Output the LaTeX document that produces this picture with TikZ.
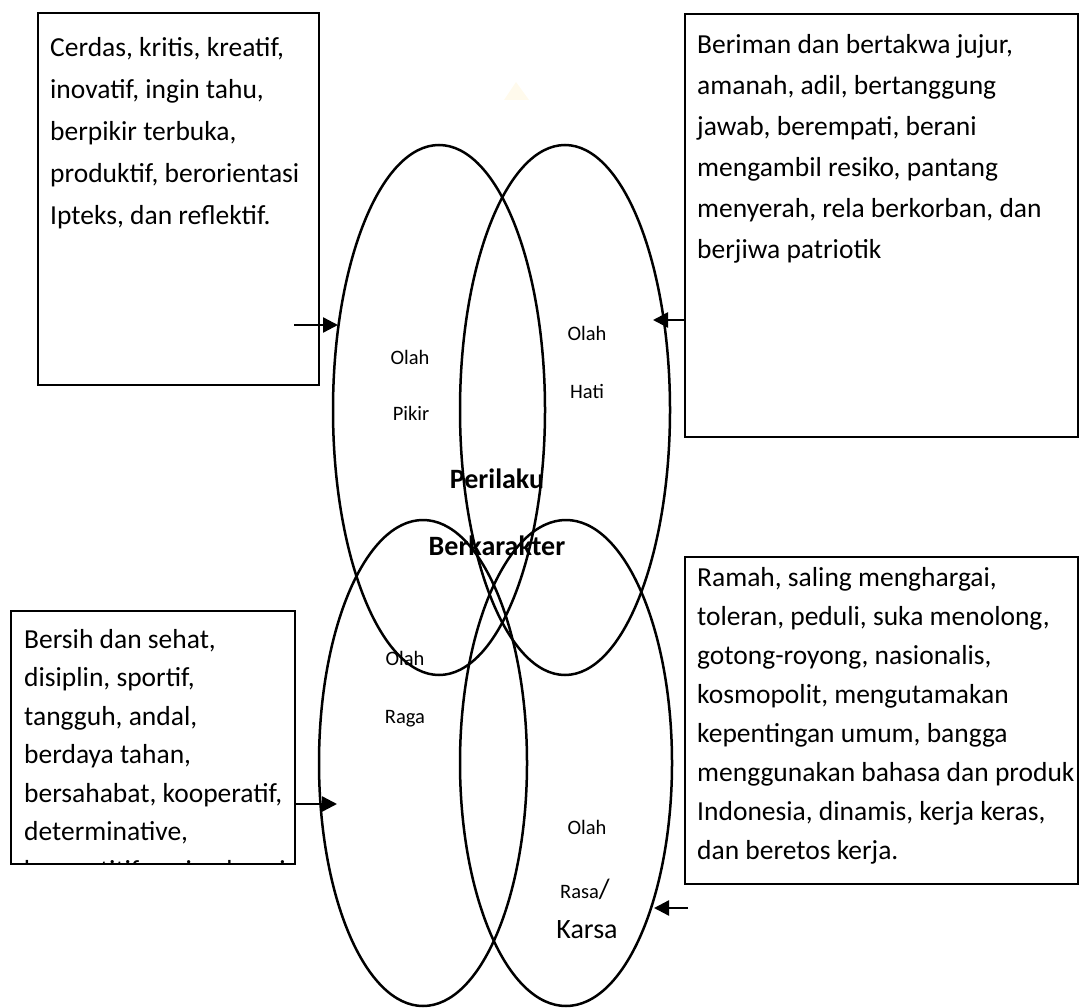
\documentclass[tikz,border=0pt]{standalone}
\usepackage{fontspec}
\setmainfont{Carlito}
\usetikzlibrary{shapes.geometric,arrows.meta}
\begin{document}
\begin{tikzpicture}[x=1pt,y=-1pt,
  boxst/.style={draw, line width=2.4pt, rectangle, inner sep=0pt, outer sep=0pt},
  ell/.style={draw, line width=2.5pt, ellipse, inner sep=0pt, outer sep=0pt},
  boxtxt/.style={anchor=base west, inner sep=0pt, text width=400pt, align=flush left,
                 font=\fontsize{27.5}{41}\selectfont},
  lbl/.style={anchor=base, inner sep=0pt, font=\fontsize{20.5}{24}\selectfont},
  bigl/.style={anchor=base, inner sep=0pt, font=\bfseries\fontsize{28}{32}\selectfont},
  arr/.style={line width=2.4pt, -{Triangle[length=15pt,width=15pt]}}
]
\useasboundingbox (0,0) rectangle (1081,1008);

% faint watermark fragment
\fill[yellow!50!orange!20, opacity=0.35] (504,100) -- (516,82) -- (529,100) -- cycle;

% boxes
\node[boxst, minimum width=281pt, minimum height=372pt] (tl) at (178.5,199) {};
\node[boxst, minimum width=393pt, minimum height=423pt] (tr) at (881.5,225.5) {};
\node[boxst, minimum width=284pt, minimum height=253pt] (bl) at (153,737.5) {};
\node[boxst, minimum width=393pt, minimum height=327pt] (br) at (881.5,720.5) {};

% box texts
\node[boxtxt, font=\fontsize{27.5}{42}\selectfont] (tltext) at (50,57) {Cerdas, kritis, kreatif,\\inovatif, ingin tahu,\\berpikir terbuka,\\produktif, berorientasi\\Ipteks, dan reflektif.};
\node[boxtxt] (trtext) at (697,54) {Beriman dan bertakwa jujur,\\amanah, adil, bertanggung\\jawab, berempati, berani\\mengambil resiko, pantang\\menyerah, rela berkorban, dan\\berjiwa patriotik};
\begin{scope}
  \clip (12,612) rectangle (294,862.6);
  \node[boxtxt, font=\fontsize{27.5}{38.5}\selectfont] (bltext) at (24,648) {Bersih dan sehat,\\disiplin, sportif,\\tangguh, andal,\\berdaya tahan,\\bersahabat, kooperatif,\\determinative,\\kompetitif, ceria, dan gigih.};
\end{scope}
\node[boxtxt, font=\fontsize{27.5}{39}\selectfont] (brtext) at (697,586) {Ramah, saling menghargai,\\toleran, peduli, suka menolong,\\gotong-royong, nasionalis,\\kosmopolit, mengutamakan\\kepentingan umum, bangga\\menggunakan bahasa dan produk\\Indonesia, dinamis, kerja keras,\\dan beretos kerja.};

% ellipses
\node[ell, minimum width=212pt, minimum height=530pt] (pikir) at (439,410) {};
\node[ell, minimum width=210pt, minimum height=530pt] (hati) at (565,410) {};
\node[ell, minimum width=208pt, minimum height=486pt] (raga) at (423,763) {};
\node[ell, minimum width=212pt, minimum height=486pt] (rasa) at (566,763) {};

% labels
\node[lbl] (olah1) at (410,364) {Olah};
\node[lbl] (pikirl) at (411,420) {Pikir};
\node[lbl] (olah2) at (587,340) {Olah};
\node[lbl] (hatil) at (587,398) {Hati};
\node[bigl] (perilaku) at (497,488) {Perilaku};
\node[bigl] (berkarakter) at (497,555) {Berkarakter};
\node[lbl] (olah3) at (405,665) {Olah};
\node[lbl] (ragal) at (405,723) {Raga};
\node[lbl] (olah4) at (587,834) {Olah};
\node[lbl] (rasal) at (585,898) {Rasa{\fontsize{28}{30}\selectfont/}};
\node[lbl, font=\fontsize{28}{30}\selectfont] (karsal) at (587,938) {Karsa};

% arrows
\coordinate (a1s) at (294,325);
\coordinate (a1e) at (338,325);
\coordinate (a2s) at (tr.west |- 0,320);
\coordinate (a2e) at (653,320);
\coordinate (a3s) at (bl.east |- 0,804);
\coordinate (a3e) at (337,804);
\coordinate (a4s) at (688,908);
\coordinate (a4e) at (654,908);
\draw[arr] (a1s) -- (a1e);
\draw[arr] (a2s) -- (a2e);
\draw[arr] (a3s) -- (a3e);
\draw[arr] (a4s) -- (a4e);
\end{tikzpicture}
\end{document}
